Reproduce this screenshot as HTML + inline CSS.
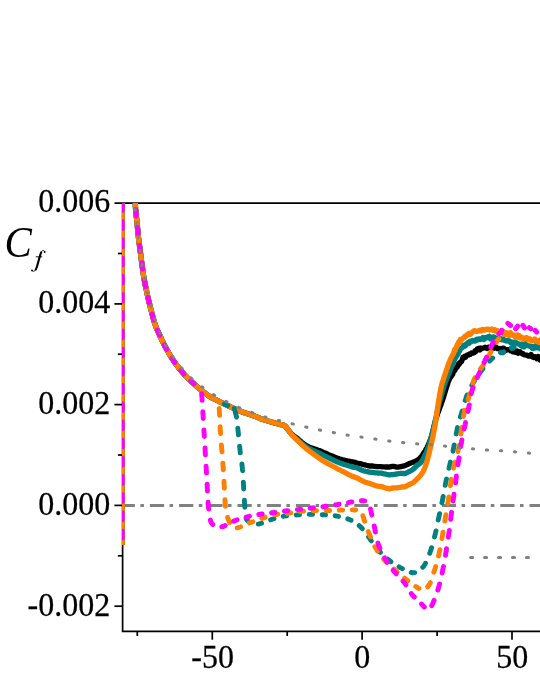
<!DOCTYPE html>
<html><head><meta charset="utf-8"><title>Cf</title>
<style>html,body{margin:0;padding:0;background:#fff}body{width:540px;height:699px;position:relative;overflow:hidden;font-family:"Liberation Serif",serif}</style>
</head><body>
<svg width="540" height="699" viewBox="0 0 540 699" style="position:absolute;left:0;top:0;will-change:transform">
<defs><clipPath id="c"><rect x="122" y="203.1" width="420" height="428"/></clipPath></defs>
<rect width="540" height="699" fill="#fff"/>
<g stroke="#000" stroke-width="1.7" fill="none">
<path d="M122.6,202.2 V632.3 M121.8,631.45 H540 M114.5,203.1 H540"/>
<path d="M114.4,303.9 H122.6"/>
<path d="M114.4,404.6 H122.6"/>
<path d="M114.4,505.4 H122.6"/>
<path d="M114.4,606.2 H122.6"/>
<path d="M117.9,253.5 H122.6"/>
<path d="M117.9,354.2 H122.6"/>
<path d="M117.9,455 H122.6"/>
<path d="M117.9,555.8 H122.6"/>
<path d="M212.3,631.4 V639.7"/>
<path d="M362.1,631.4 V639.7"/>
<path d="M512,631.4 V639.7"/>
<path d="M137.3,631.4 V636"/>
<path d="M287.2,631.4 V636"/>
<path d="M437.1,631.4 V636"/>
</g>
<g clip-path="url(#c)">
<path d="M122,505.4 H545" stroke="#808080" stroke-width="3" fill="none" stroke-dasharray="14.2 5.5 3.5 6" stroke-dashoffset="1.3"/>
<path d="M122.2,203.0 L122.2,545.0" fill="none" stroke="#000" stroke-width="5.3" stroke-linejoin="round"/>
<path d="M135.3,203.0 L135.3,203.6 L135.3,204.3 L135.4,205.2 L135.4,206.2 L135.5,207.5 L135.6,209.0 L135.7,209.8 L135.8,210.7 L135.9,211.6 L136.0,212.6 L136.1,213.6 L136.2,214.7 L136.3,215.8 L136.4,217.0 L136.5,218.1 L136.7,219.2 L136.8,220.3 L136.9,221.4 L137.0,222.5 L137.1,223.5 L137.2,224.6 L137.3,225.6 L137.4,226.6 L137.5,227.6 L137.6,228.7 L137.7,229.7 L137.8,230.7 L137.9,231.8 L138.0,232.8 L138.1,233.9 L138.2,234.9 L138.3,236.0 L138.4,237.0 L138.5,238.1 L138.7,239.1 L138.8,240.2 L138.9,241.2 L139.1,242.3 L139.2,243.4 L139.4,244.4 L139.5,245.5 L139.6,246.6 L139.8,247.6 L139.9,248.7 L140.1,249.7 L140.2,250.8 L140.3,251.8 L140.5,252.9 L140.6,254.0 L140.8,255.1 L140.9,256.2 L141.0,257.2 L141.2,258.3 L141.3,259.3 L141.4,260.4 L141.6,261.4 L141.7,262.5 L141.9,263.5 L142.0,264.5 L142.1,265.6 L142.3,266.6 L142.4,267.7 L142.6,268.7 L142.7,269.7 L142.8,270.7 L143.0,271.7 L143.1,272.7 L143.3,273.7 L143.4,274.8 L143.6,275.9 L143.8,277.0 L144.0,278.0 L144.1,279.0 L144.3,280.0 L144.5,281.0 L144.7,282.0 L144.9,283.0 L145.1,284.1 L145.3,285.2 L145.5,286.2 L145.8,287.3 L146.0,288.4 L146.2,289.5 L146.5,290.6 L146.7,291.7 L146.9,292.6 L147.1,293.6 L147.3,294.5 L147.5,295.5 L147.7,296.4 L148.0,297.4 L148.2,298.4 L148.4,299.4 L148.7,300.4 L148.9,301.4 L149.1,302.4 L149.4,303.4 L149.6,304.3 L149.9,305.3 L150.1,306.3 L150.3,307.3 L150.6,308.3 L150.9,309.3 L151.1,310.3 L151.4,311.3 L151.6,312.3 L151.9,313.4 L152.2,314.4 L152.5,315.4 L152.7,316.4 L153.0,317.5 L153.3,318.5 L153.6,319.5 L153.9,320.5 L154.1,321.4 L154.4,322.4 L154.7,323.3 L155.0,324.1 L155.3,325.0 L155.7,326.1 L156.1,327.2 L156.5,328.3 L156.9,329.3 L157.4,330.2 L157.8,331.1 L158.2,332.0 L158.6,332.9 L159.1,333.9 L159.5,334.8 L159.9,335.7 L160.4,336.7 L160.8,337.6 L161.3,338.5 L161.7,339.5 L162.1,340.4 L162.6,341.3 L163.0,342.3 L163.5,343.2 L163.9,344.1 L164.4,345.1 L164.9,346.0 L165.4,347.0 L165.9,347.9 L166.4,348.9 L166.9,349.8 L167.4,350.7 L167.9,351.6 L168.5,352.5 L169.0,353.5 L169.5,354.4 L170.1,355.3 L170.7,356.3 L171.2,357.2 L171.8,358.1 L172.4,359.0 L173.0,359.9 L173.6,360.8 L174.2,361.7 L174.8,362.6 L175.4,363.4 L176.0,364.3 L176.7,365.1 L177.3,366.0 L178.0,366.8 L178.6,367.7 L179.3,368.5 L179.9,369.3 L180.6,370.1 L181.3,370.9 L181.9,371.7 L182.6,372.5 L183.3,373.3 L184.0,374.1 L184.7,374.8 L185.4,375.6 L186.2,376.4 L186.9,377.1 L187.6,377.9 L188.4,378.6 L189.1,379.3 L189.9,380.0 L190.6,380.7 L191.3,381.4 L192.0,382.1 L192.7,382.7 L193.3,383.3 L194.2,384.1 L195.0,384.9 L195.8,385.6 L196.5,386.2 L197.3,386.9 L198.0,387.5 L198.7,388.1 L199.5,388.7 L200.3,389.3 L201.1,390.0 L201.9,390.6 L202.7,391.2 L203.4,391.9 L204.3,392.5 L205.1,393.2 L205.9,393.8 L206.7,394.4 L207.5,395.0 L208.4,395.6 L209.2,396.2 L210.0,396.7 L210.9,397.3 L211.8,397.8 L212.8,398.3 L213.7,398.8 L214.6,399.2 L215.5,399.7 L216.4,400.1 L217.3,400.5 L218.1,400.9 L218.9,401.3 L220.0,401.9 L220.8,402.3 L221.6,402.7 L222.5,403.1 L223.5,403.6 L225.0,404.3 L225.7,404.6 L226.5,405.0 L227.3,405.4 L228.2,405.8 L229.1,406.2 L230.1,406.7 L231.1,407.2 L232.1,407.6 L233.2,408.1 L234.2,408.6 L235.3,409.0 L236.3,409.5 L237.4,410.0 L238.4,410.4 L239.4,410.8 L240.4,411.2 L241.3,411.6 L242.4,411.9 L243.4,412.3 L244.5,412.7 L245.5,413.1 L246.6,413.4 L247.7,413.8 L248.7,414.1 L249.7,414.5 L250.7,414.8 L251.7,415.1 L252.6,415.4 L253.4,415.7 L254.3,416.0 L255.0,416.3 L256.4,416.8 L257.4,417.3 L258.2,417.6 L258.9,417.9 L259.7,418.3 L260.7,418.7 L262.2,419.2 L263.0,419.4 L263.8,419.7 L264.7,420.0 L265.7,420.3 L266.8,420.6 L267.9,421.0 L269.0,421.3 L270.1,421.6 L271.3,422.0 L272.4,422.3 L273.5,422.6 L274.6,422.9 L275.6,423.2 L276.6,423.5 L277.5,423.8 L278.3,424.0 L279.0,424.2 L280.9,424.7 L282.1,424.9 L283.0,425.1 L283.7,425.2 L284.5,425.6 L285.4,426.3 L286.1,427.1 L286.7,428.0 L287.5,429.0 L288.1,429.8 L288.8,430.6 L289.5,431.5 L290.3,432.5 L291.1,433.4 L291.9,434.2 L292.6,434.8 L293.3,435.4 L294.0,436.0 L294.8,436.6 L295.6,437.2 L296.5,437.8 L297.5,438.6 L298.2,439.2 L298.9,439.8 L299.6,440.4 L300.4,441.1 L301.2,441.8 L302.0,442.5 L302.9,443.2 L303.8,443.9 L304.7,444.6 L305.7,445.2 L306.7,445.8 L307.5,446.2 L308.5,446.7 L309.4,447.1 L310.4,447.5 L311.5,447.9 L312.5,448.2 L313.6,448.6 L314.7,449.0 L315.7,449.3 L316.7,449.6 L317.6,450.0 L318.5,450.3 L319.3,450.5 L320.0,450.8 L321.4,451.4 L322.1,451.7 L322.7,452.0 L323.5,452.4 L325.0,453.0 L325.7,453.3 L326.4,453.6 L327.2,453.9 L328.0,454.3 L328.9,454.7 L329.9,455.1 L330.9,455.5 L331.9,455.9 L332.9,456.3 L333.9,456.8 L335.0,457.2 L336.0,457.6 L337.0,458.0 L338.1,458.3 L339.0,458.7 L340.0,459.0 L341.0,459.3 L342.0,459.6 L343.1,459.9 L344.1,460.1 L345.2,460.4 L346.2,460.6 L347.3,460.9 L348.3,461.1 L349.4,461.4 L350.4,461.5 L351.4,461.7 L352.3,461.9 L353.3,462.0 L354.1,462.2 L355.0,462.4 L356.1,462.7 L357.1,463.0 L357.9,463.2 L358.6,463.4 L359.4,463.6 L360.2,463.7 L361.1,463.9 L362.1,464.2 L363.4,464.6 L365.0,464.9 L365.7,465.1 L366.5,465.3 L367.4,465.5 L368.3,465.8 L369.2,466.0 L370.2,466.0 L371.2,466.0 L372.2,466.0 L373.3,466.1 L374.4,466.3 L375.5,466.5 L376.6,466.6 L377.8,466.7 L378.9,466.7 L380.0,466.7 L381.1,466.7 L382.2,466.8 L383.3,466.9 L384.4,466.9 L385.4,467.0 L386.4,467.0 L387.4,467.0 L388.3,467.1 L389.2,467.0 L390.0,466.9 L391.3,466.6 L392.5,466.4 L393.7,466.4 L394.8,466.7 L395.8,466.9 L396.8,467.2 L397.8,467.1 L398.7,467.0 L399.7,466.8 L400.6,466.6 L401.4,466.5 L402.3,466.3 L403.2,466.1 L404.1,465.9 L405.0,465.7 L406.1,465.2 L407.1,464.7 L408.2,464.1 L409.2,463.6 L410.2,463.3 L411.2,462.9 L412.2,462.5 L413.2,462.1 L414.1,461.8 L415.0,461.4 L415.9,461.0 L416.7,460.6 L417.5,460.1 L418.3,459.5 L419.1,458.9 L419.8,458.3 L420.4,457.6 L421.1,456.8 L421.7,456.1 L422.2,455.3 L422.8,454.5 L423.3,453.7 L423.9,452.9 L424.4,452.0 L425.0,451.1 L425.5,450.3 L425.9,449.5 L426.4,448.6 L426.9,447.8 L427.3,446.9 L427.7,446.0 L428.2,445.1 L428.6,444.2 L429.0,443.2 L429.4,442.3 L429.8,441.3 L430.2,440.3 L430.6,439.2 L431.0,438.1 L431.3,437.3 L431.6,436.4 L431.8,435.5 L432.1,434.6 L432.3,433.6 L432.6,432.7 L432.9,431.7 L433.1,430.6 L433.3,429.6 L433.6,428.5 L433.8,427.4 L434.1,426.3 L434.3,425.3 L434.6,424.2 L434.9,423.1 L435.1,422.0 L435.4,420.9 L435.7,419.9 L436.0,418.8 L436.3,417.9 L436.6,416.9 L436.9,415.9 L437.2,414.9 L437.5,414.0 L437.8,413.1 L438.2,412.2 L438.5,411.3 L438.8,410.4 L439.2,409.4 L439.5,408.5 L439.8,407.6 L440.2,406.7 L440.5,405.8 L440.9,404.9 L441.2,403.9 L441.5,403.0 L441.9,402.0 L442.2,401.1 L442.5,400.2 L442.8,399.2 L443.1,398.2 L443.5,397.2 L443.8,396.2 L444.1,395.2 L444.4,394.2 L444.7,393.2 L445.0,392.2 L445.3,391.2 L445.6,390.1 L446.0,389.1 L446.3,388.1 L446.6,387.1 L446.9,386.1 L447.2,385.2 L447.5,384.2 L447.8,383.4 L448.1,382.3 L448.4,381.6 L448.8,380.6 L449.2,379.7 L449.7,378.9 L450.2,377.6 L450.7,377.3 L451.2,376.4 L451.7,375.3 L452.2,374.0 L452.7,374.4 L453.2,372.4 L453.6,371.5 L454.1,371.1 L454.6,370.4 L455.0,370.2 L455.7,367.9 L456.3,368.0 L456.9,367.4 L457.5,366.6 L458.0,364.8 L458.6,363.6 L459.3,364.1 L460.0,362.6 L460.7,361.8 L461.4,361.9 L462.1,359.9 L462.9,357.6 L463.7,358.1 L464.5,356.3 L465.3,357.4 L466.2,356.4 L467.0,355.1 L467.9,354.9 L468.7,354.9 L469.6,353.9 L470.5,354.3 L471.5,352.9 L472.4,353.2 L473.3,353.1 L474.1,352.8 L475.0,350.8 L476.0,351.4 L477.1,349.0 L478.0,349.2 L479.0,348.2 L480.0,349.9 L481.0,348.0 L482.0,348.5 L483.0,348.1 L484.0,347.9 L485.1,347.2 L486.1,347.5 L487.2,348.4 L488.4,347.1 L489.6,347.4 L490.5,347.7 L491.4,346.9 L492.4,346.3 L493.3,346.9 L494.3,348.2 L495.4,346.5 L496.5,347.4 L497.6,348.7 L498.8,348.8 L500.0,348.5 L500.9,349.2 L501.8,349.0 L502.7,348.2 L503.7,348.2 L504.7,349.1 L505.7,350.4 L506.7,349.6 L507.7,349.6 L508.8,349.9 L509.8,349.7 L510.9,350.9 L511.9,350.4 L513.0,351.8 L514.0,350.1 L515.0,352.2 L516.0,351.8 L517.0,351.1 L518.0,353.2 L519.1,352.8 L520.1,351.7 L521.1,352.9 L522.2,354.0 L523.2,353.7 L524.2,354.8 L525.2,355.0 L526.2,355.2 L527.2,355.2 L528.2,356.2 L529.1,355.9 L530.0,356.0 L531.1,354.5 L532.3,356.9 L533.5,357.5 L534.7,356.7 L535.8,356.8 L536.9,358.8 L538.0,356.5 L539.0,358.3 L539.9,359.9 L540.7,357.8 L541.4,359.1 L542.0,360.1" fill="none" stroke="#000" stroke-width="5.3" stroke-linejoin="round"/>
<path d="M122.2,203.0 L122.2,545.0" fill="none" stroke="#008080" stroke-width="5.3" stroke-linejoin="round"/>
<path d="M135.3,203.0 L135.3,203.6 L135.3,204.3 L135.4,205.2 L135.4,206.2 L135.5,207.5 L135.6,209.0 L135.7,209.8 L135.8,210.7 L135.9,211.6 L136.0,212.6 L136.1,213.6 L136.2,214.7 L136.3,215.8 L136.4,217.0 L136.5,218.1 L136.7,219.2 L136.8,220.3 L136.9,221.4 L137.0,222.5 L137.1,223.5 L137.2,224.6 L137.3,225.6 L137.4,226.6 L137.5,227.6 L137.6,228.7 L137.7,229.7 L137.8,230.7 L137.9,231.8 L138.0,232.8 L138.1,233.9 L138.2,234.9 L138.3,236.0 L138.4,237.0 L138.5,238.1 L138.7,239.1 L138.8,240.2 L138.9,241.2 L139.1,242.3 L139.2,243.4 L139.4,244.4 L139.5,245.5 L139.6,246.6 L139.8,247.6 L139.9,248.7 L140.1,249.7 L140.2,250.8 L140.3,251.8 L140.5,252.9 L140.6,254.0 L140.8,255.1 L140.9,256.2 L141.0,257.2 L141.2,258.3 L141.3,259.3 L141.4,260.4 L141.6,261.4 L141.7,262.5 L141.9,263.5 L142.0,264.5 L142.1,265.6 L142.3,266.6 L142.4,267.7 L142.6,268.7 L142.7,269.7 L142.8,270.7 L143.0,271.7 L143.1,272.7 L143.3,273.7 L143.4,274.8 L143.6,275.9 L143.8,277.0 L144.0,278.0 L144.1,279.0 L144.3,280.0 L144.5,281.0 L144.7,282.0 L144.9,283.0 L145.1,284.1 L145.3,285.2 L145.5,286.2 L145.8,287.3 L146.0,288.4 L146.2,289.5 L146.5,290.6 L146.7,291.7 L146.9,292.6 L147.1,293.6 L147.3,294.5 L147.5,295.5 L147.7,296.4 L148.0,297.4 L148.2,298.4 L148.4,299.4 L148.7,300.4 L148.9,301.4 L149.1,302.4 L149.4,303.4 L149.6,304.3 L149.9,305.3 L150.1,306.3 L150.3,307.3 L150.6,308.3 L150.9,309.3 L151.1,310.3 L151.4,311.3 L151.6,312.3 L151.9,313.4 L152.2,314.4 L152.5,315.4 L152.7,316.4 L153.0,317.5 L153.3,318.5 L153.6,319.5 L153.9,320.5 L154.1,321.4 L154.4,322.4 L154.7,323.3 L155.0,324.1 L155.3,325.0 L155.7,326.1 L156.1,327.2 L156.5,328.3 L156.9,329.3 L157.4,330.2 L157.8,331.1 L158.2,332.0 L158.6,332.9 L159.1,333.9 L159.5,334.8 L159.9,335.7 L160.4,336.7 L160.8,337.6 L161.3,338.5 L161.7,339.5 L162.1,340.4 L162.6,341.3 L163.0,342.3 L163.5,343.2 L163.9,344.1 L164.4,345.1 L164.9,346.0 L165.4,347.0 L165.9,347.9 L166.4,348.9 L166.9,349.8 L167.4,350.7 L167.9,351.6 L168.5,352.5 L169.0,353.5 L169.5,354.4 L170.1,355.3 L170.7,356.3 L171.2,357.2 L171.8,358.1 L172.4,359.0 L173.0,359.9 L173.6,360.8 L174.2,361.7 L174.8,362.6 L175.4,363.4 L176.0,364.3 L176.7,365.1 L177.3,366.0 L178.0,366.8 L178.6,367.7 L179.3,368.5 L179.9,369.3 L180.6,370.1 L181.3,370.9 L181.9,371.7 L182.6,372.5 L183.3,373.3 L184.0,374.1 L184.7,374.8 L185.4,375.6 L186.2,376.4 L186.9,377.1 L187.6,377.9 L188.4,378.6 L189.1,379.3 L189.9,380.0 L190.6,380.7 L191.3,381.4 L192.0,382.1 L192.7,382.7 L193.3,383.3 L194.2,384.1 L195.0,384.9 L195.8,385.6 L196.5,386.2 L197.3,386.9 L198.0,387.5 L198.7,388.1 L199.5,388.7 L200.3,389.3 L201.1,390.0 L201.9,390.6 L202.7,391.2 L203.4,391.9 L204.3,392.5 L205.1,393.2 L205.9,393.8 L206.7,394.4 L207.5,395.0 L208.4,395.6 L209.2,396.2 L210.0,396.7 L210.9,397.3 L211.8,397.8 L212.8,398.3 L213.7,398.8 L214.6,399.2 L215.5,399.7 L216.4,400.1 L217.3,400.5 L218.1,400.9 L218.9,401.3 L220.0,401.9 L220.8,402.3 L221.6,402.7 L222.5,403.1 L223.5,403.6 L225.0,404.3 L225.7,404.6 L226.5,405.0 L227.3,405.4 L228.2,405.8 L229.1,406.2 L230.1,406.7 L231.1,407.2 L232.1,407.6 L233.2,408.1 L234.2,408.6 L235.3,409.0 L236.3,409.5 L237.4,410.0 L238.4,410.4 L239.4,410.8 L240.4,411.2 L241.3,411.6 L242.4,411.9 L243.4,412.3 L244.5,412.7 L245.5,413.1 L246.6,413.4 L247.7,413.8 L248.7,414.1 L249.7,414.5 L250.7,414.8 L251.7,415.1 L252.6,415.4 L253.4,415.7 L254.3,416.0 L255.0,416.3 L256.4,416.8 L257.4,417.3 L258.2,417.6 L258.9,417.9 L259.7,418.3 L260.7,418.7 L262.2,419.2 L263.0,419.4 L263.8,419.7 L264.7,420.0 L265.7,420.3 L266.8,420.6 L267.9,421.0 L269.0,421.3 L270.1,421.6 L271.3,422.0 L272.4,422.3 L273.5,422.6 L274.6,422.9 L275.6,423.2 L276.6,423.5 L277.5,423.8 L278.3,424.0 L279.0,424.2 L280.9,424.7 L282.1,424.9 L283.0,425.1 L283.7,425.2 L284.5,425.6 L285.4,426.3 L286.1,427.0 L286.7,427.9 L287.5,429.0 L288.0,429.7 L288.6,430.5 L289.2,431.3 L289.9,432.1 L290.5,433.0 L291.2,433.8 L291.9,434.6 L292.6,435.3 L293.3,436.0 L294.0,436.6 L294.8,437.3 L295.6,437.9 L296.5,438.7 L297.5,439.5 L298.2,440.1 L298.9,440.7 L299.6,441.4 L300.4,442.1 L301.2,442.8 L302.0,443.5 L302.9,444.2 L303.8,445.0 L304.7,445.7 L305.7,446.3 L306.7,447.0 L307.5,447.5 L308.5,448.0 L309.4,448.5 L310.4,449.0 L311.5,449.6 L312.5,450.1 L313.6,450.6 L314.7,451.0 L315.7,451.5 L316.7,452.0 L317.6,452.4 L318.5,452.8 L319.3,453.2 L320.0,453.5 L321.4,454.2 L322.1,454.6 L322.7,454.9 L323.5,455.3 L325.0,456.0 L325.7,456.3 L326.4,456.7 L327.2,457.1 L328.0,457.5 L328.9,457.9 L329.9,458.4 L330.9,458.9 L331.9,459.4 L332.9,459.9 L333.9,460.4 L335.0,460.8 L336.0,461.3 L337.0,461.8 L338.1,462.2 L339.0,462.6 L340.0,463.0 L341.0,463.4 L342.0,463.7 L343.1,464.1 L344.1,464.4 L345.2,464.7 L346.2,465.0 L347.3,465.3 L348.3,465.7 L349.4,466.0 L350.4,466.3 L351.4,466.6 L352.3,466.9 L353.3,467.2 L354.1,467.3 L355.0,467.5 L356.1,467.7 L357.1,467.9 L357.9,468.3 L358.6,468.7 L359.4,469.1 L360.2,469.5 L361.1,469.9 L362.1,470.3 L363.4,470.7 L365.0,471.1 L365.7,471.3 L366.5,471.5 L367.4,471.7 L368.3,471.9 L369.2,472.1 L370.2,472.2 L371.2,472.3 L372.2,472.4 L373.3,472.5 L374.4,472.6 L375.5,472.8 L376.6,472.9 L377.8,473.0 L378.9,473.1 L380.0,473.1 L381.1,473.2 L382.2,473.4 L383.3,473.6 L384.4,473.8 L385.4,474.0 L386.4,474.3 L387.4,474.5 L388.3,474.7 L389.2,474.8 L390.0,474.8 L391.3,474.7 L392.5,474.6 L393.7,474.5 L394.8,474.3 L395.8,474.1 L396.8,473.9 L397.8,473.8 L398.7,473.7 L399.7,473.5 L400.6,473.3 L401.4,473.3 L402.3,473.4 L403.2,473.5 L404.1,473.6 L405.0,473.7 L406.0,473.2 L407.0,472.7 L407.9,472.2 L408.9,471.6 L409.9,471.2 L410.8,470.7 L411.7,470.2 L412.6,469.6 L413.5,468.9 L414.4,468.1 L415.2,467.3 L416.0,466.4 L416.8,465.5 L417.5,465.0 L418.2,464.6 L418.9,464.2 L419.6,463.7 L420.2,463.2 L420.8,462.6 L421.4,461.9 L421.9,461.0 L422.5,460.2 L423.0,459.3 L423.5,458.3 L424.0,457.3 L424.5,456.3 L425.0,455.2 L425.4,454.5 L425.7,453.7 L426.1,452.9 L426.5,452.0 L426.8,451.1 L427.1,450.2 L427.5,449.3 L427.8,448.4 L428.2,447.5 L428.5,446.5 L428.8,445.5 L429.1,444.5 L429.4,443.4 L429.8,442.3 L430.1,441.2 L430.4,440.2 L430.7,439.1 L431.0,438.0 L431.3,437.0 L431.5,436.0 L431.8,435.0 L432.1,433.9 L432.3,432.9 L432.6,431.9 L432.9,430.8 L433.1,429.7 L433.4,428.7 L433.6,427.7 L433.9,426.6 L434.1,425.6 L434.4,424.5 L434.6,423.5 L434.8,422.5 L435.1,421.5 L435.3,420.5 L435.5,419.5 L435.8,418.5 L436.0,417.5 L436.3,416.4 L436.5,415.3 L436.7,414.3 L437.0,413.2 L437.2,412.2 L437.4,411.2 L437.6,410.2 L437.8,409.2 L438.0,408.2 L438.3,407.2 L438.5,406.3 L438.7,405.3 L438.9,404.3 L439.2,403.3 L439.4,402.2 L439.7,401.2 L440.0,400.2 L440.3,399.2 L440.5,398.3 L440.8,397.3 L441.1,396.3 L441.4,395.2 L441.7,394.1 L442.0,393.0 L442.4,391.9 L442.7,390.7 L443.0,389.6 L443.3,388.5 L443.7,387.4 L444.0,386.3 L444.3,385.2 L444.7,384.1 L445.0,383.0 L445.3,382.2 L445.7,381.3 L446.0,380.5 L446.3,379.6 L446.7,378.7 L447.0,377.8 L447.4,376.9 L447.7,376.1 L448.1,375.3 L448.4,374.3 L448.8,373.8 L449.2,372.6 L449.5,371.8 L449.9,370.7 L450.2,369.9 L450.6,368.3 L451.0,367.7 L451.4,367.0 L451.7,366.2 L452.1,365.8 L452.5,364.3 L453.0,363.6 L453.5,362.2 L453.9,361.3 L454.4,360.1 L454.9,358.8 L455.5,358.1 L456.0,356.3 L456.5,356.5 L457.0,354.3 L457.5,354.2 L458.0,354.5 L458.5,352.1 L459.0,351.5 L459.5,351.5 L460.0,350.0 L460.8,348.4 L461.6,348.2 L462.3,347.6 L463.1,346.9 L463.8,345.2 L464.6,346.4 L465.4,345.8 L466.2,344.1 L467.0,343.7 L467.9,342.6 L468.8,343.4 L469.7,341.5 L470.7,342.1 L471.6,340.9 L472.7,340.4 L473.8,341.1 L475.0,341.1 L475.9,339.9 L476.8,339.2 L477.7,339.9 L478.6,339.0 L479.6,339.0 L480.7,339.5 L481.7,339.0 L482.8,337.6 L483.9,339.4 L485.1,337.6 L486.3,338.1 L487.5,337.0 L488.4,337.5 L489.4,336.4 L490.4,338.9 L491.4,338.7 L492.4,337.1 L493.5,337.0 L494.6,337.2 L495.7,339.3 L496.8,338.4 L497.9,338.9 L499.0,338.9 L500.1,339.3 L501.1,338.8 L502.1,339.8 L503.1,339.0 L504.1,340.2 L505.0,340.6 L506.2,341.0 L507.2,340.7 L508.2,340.5 L509.1,341.5 L510.0,341.2 L510.8,342.9 L511.7,342.6 L512.6,342.2 L513.6,342.3 L514.8,342.4 L516.1,342.5 L517.5,343.3 L518.3,343.9 L519.1,344.2 L520.0,344.4 L521.0,345.7 L522.0,344.0 L523.1,344.7 L524.2,346.9 L525.3,343.8 L526.5,345.0 L527.6,345.7 L528.8,345.9 L529.9,346.4 L531.1,346.1 L532.3,346.8 L533.4,346.8 L534.5,347.5 L535.6,345.9 L536.6,346.8 L537.6,347.6 L538.5,347.1 L539.3,347.2 L540.1,348.6 L540.8,347.8 L541.5,348.8 L542.0,349.0" fill="none" stroke="#008080" stroke-width="5.3" stroke-linejoin="round"/>
<path d="M122.2,203.0 L122.2,545.0" fill="none" stroke="#FF8000" stroke-width="5.3" stroke-linejoin="round"/>
<path d="M135.3,203.0 L135.3,203.6 L135.3,204.3 L135.4,205.2 L135.4,206.2 L135.5,207.5 L135.6,209.0 L135.7,209.8 L135.8,210.7 L135.9,211.6 L136.0,212.6 L136.1,213.6 L136.2,214.7 L136.3,215.8 L136.4,217.0 L136.5,218.1 L136.7,219.2 L136.8,220.3 L136.9,221.4 L137.0,222.5 L137.1,223.5 L137.2,224.6 L137.3,225.6 L137.4,226.6 L137.5,227.6 L137.6,228.7 L137.7,229.7 L137.8,230.7 L137.9,231.8 L138.0,232.8 L138.1,233.9 L138.2,234.9 L138.3,236.0 L138.4,237.0 L138.5,238.1 L138.7,239.1 L138.8,240.2 L138.9,241.2 L139.1,242.3 L139.2,243.4 L139.4,244.4 L139.5,245.5 L139.6,246.6 L139.8,247.6 L139.9,248.7 L140.1,249.7 L140.2,250.8 L140.3,251.8 L140.5,252.9 L140.6,254.0 L140.8,255.1 L140.9,256.2 L141.0,257.2 L141.2,258.3 L141.3,259.3 L141.4,260.4 L141.6,261.4 L141.7,262.5 L141.9,263.5 L142.0,264.5 L142.1,265.6 L142.3,266.6 L142.4,267.7 L142.6,268.7 L142.7,269.7 L142.8,270.7 L143.0,271.7 L143.1,272.7 L143.3,273.7 L143.4,274.8 L143.6,275.9 L143.8,277.0 L144.0,278.0 L144.1,279.0 L144.3,280.0 L144.5,281.0 L144.7,282.0 L144.9,283.0 L145.1,284.1 L145.3,285.2 L145.5,286.2 L145.8,287.3 L146.0,288.4 L146.2,289.5 L146.5,290.6 L146.7,291.7 L146.9,292.6 L147.1,293.6 L147.3,294.5 L147.5,295.5 L147.7,296.4 L148.0,297.4 L148.2,298.4 L148.4,299.4 L148.7,300.4 L148.9,301.4 L149.1,302.4 L149.4,303.4 L149.6,304.3 L149.9,305.3 L150.1,306.3 L150.3,307.3 L150.6,308.3 L150.9,309.3 L151.1,310.3 L151.4,311.3 L151.6,312.3 L151.9,313.4 L152.2,314.4 L152.5,315.4 L152.7,316.4 L153.0,317.5 L153.3,318.5 L153.6,319.5 L153.9,320.5 L154.1,321.4 L154.4,322.4 L154.7,323.3 L155.0,324.1 L155.3,325.0 L155.7,326.1 L156.1,327.2 L156.5,328.3 L156.9,329.3 L157.4,330.2 L157.8,331.1 L158.2,332.0 L158.6,332.9 L159.1,333.9 L159.5,334.8 L159.9,335.7 L160.4,336.7 L160.8,337.6 L161.3,338.5 L161.7,339.5 L162.1,340.4 L162.6,341.3 L163.0,342.3 L163.5,343.2 L163.9,344.1 L164.4,345.1 L164.9,346.0 L165.4,347.0 L165.9,347.9 L166.4,348.9 L166.9,349.8 L167.4,350.7 L167.9,351.6 L168.5,352.5 L169.0,353.5 L169.5,354.4 L170.1,355.3 L170.7,356.3 L171.2,357.2 L171.8,358.1 L172.4,359.0 L173.0,359.9 L173.6,360.8 L174.2,361.7 L174.8,362.6 L175.4,363.4 L176.0,364.3 L176.7,365.1 L177.3,366.0 L178.0,366.8 L178.6,367.7 L179.3,368.5 L179.9,369.3 L180.6,370.1 L181.3,370.9 L181.9,371.7 L182.6,372.5 L183.3,373.3 L184.0,374.1 L184.7,374.8 L185.4,375.6 L186.2,376.4 L186.9,377.1 L187.6,377.9 L188.4,378.6 L189.1,379.3 L189.9,380.0 L190.6,380.7 L191.3,381.4 L192.0,382.1 L192.7,382.7 L193.3,383.3 L194.2,384.1 L195.0,384.9 L195.8,385.6 L196.5,386.2 L197.3,386.9 L198.0,387.5 L198.7,388.1 L199.5,388.7 L200.3,389.3 L201.1,390.0 L201.9,390.6 L202.7,391.2 L203.4,391.9 L204.3,392.5 L205.1,393.2 L205.9,393.8 L206.7,394.4 L207.5,395.0 L208.4,395.6 L209.2,396.2 L210.0,396.7 L210.9,397.3 L211.8,397.8 L212.8,398.3 L213.7,398.8 L214.6,399.2 L215.5,399.7 L216.4,400.1 L217.3,400.5 L218.1,400.9 L218.9,401.3 L220.0,401.9 L220.8,402.3 L221.6,402.7 L222.5,403.1 L223.5,403.6 L225.0,404.3 L225.7,404.6 L226.5,405.0 L227.3,405.4 L228.2,405.8 L229.1,406.2 L230.1,406.7 L231.1,407.2 L232.1,407.6 L233.2,408.1 L234.2,408.6 L235.3,409.0 L236.3,409.5 L237.4,410.0 L238.4,410.4 L239.4,410.8 L240.4,411.2 L241.3,411.6 L242.4,411.9 L243.4,412.3 L244.5,412.7 L245.5,413.1 L246.6,413.4 L247.7,413.8 L248.7,414.1 L249.7,414.5 L250.7,414.8 L251.7,415.1 L252.6,415.4 L253.4,415.7 L254.3,416.0 L255.0,416.3 L256.4,416.8 L257.4,417.3 L258.2,417.6 L258.9,417.9 L259.7,418.3 L260.7,418.7 L262.2,419.2 L263.0,419.4 L263.8,419.7 L264.7,420.0 L265.7,420.3 L266.8,420.6 L267.9,421.0 L269.0,421.3 L270.1,421.6 L271.3,422.0 L272.4,422.3 L273.5,422.6 L274.6,422.9 L275.6,423.2 L276.6,423.5 L277.5,423.8 L278.3,424.0 L279.0,424.2 L280.9,424.7 L282.1,424.9 L283.0,425.1 L283.7,425.2 L284.5,425.6 L285.4,426.2 L286.1,427.0 L286.7,427.9 L287.5,429.0 L288.0,429.7 L288.6,430.5 L289.2,431.4 L289.9,432.3 L290.5,433.2 L291.2,434.1 L291.9,435.0 L292.6,435.8 L293.3,436.5 L294.0,437.2 L294.8,438.0 L295.6,438.7 L296.5,439.6 L297.5,440.5 L298.1,441.1 L298.8,441.7 L299.5,442.4 L300.1,443.1 L300.9,443.8 L301.6,444.5 L302.4,445.2 L303.2,446.0 L304.0,446.7 L304.9,447.5 L305.8,448.2 L306.7,449.0 L307.4,449.6 L308.2,450.2 L309.1,450.8 L309.9,451.5 L310.8,452.2 L311.8,452.8 L312.7,453.5 L313.6,454.2 L314.5,454.8 L315.4,455.5 L316.3,456.1 L317.2,456.7 L318.0,457.3 L318.7,457.8 L319.4,458.3 L320.0,458.7 L321.4,459.7 L322.1,460.3 L322.7,460.6 L323.5,461.1 L325.0,462.0 L325.6,462.3 L326.3,462.7 L327.0,463.1 L327.8,463.6 L328.7,464.0 L329.6,464.5 L330.5,465.0 L331.4,465.5 L332.4,466.0 L333.3,466.5 L334.3,467.0 L335.3,467.5 L336.3,468.1 L337.2,468.6 L338.2,469.1 L339.1,469.5 L340.0,470.0 L340.9,470.5 L341.9,471.0 L342.8,471.5 L343.8,471.9 L344.7,472.4 L345.6,472.9 L346.6,473.4 L347.5,473.9 L348.4,474.4 L349.4,474.9 L350.3,475.3 L351.2,475.8 L352.2,476.2 L353.1,476.6 L354.1,476.9 L355.0,477.3 L355.9,477.6 L356.9,477.9 L357.8,478.4 L358.8,478.9 L359.7,479.4 L360.6,480.0 L361.6,480.5 L362.5,480.9 L363.4,481.4 L364.4,481.8 L365.3,482.2 L366.2,482.5 L367.2,482.7 L368.1,483.0 L369.1,483.2 L370.0,483.6 L371.0,483.9 L372.0,484.3 L373.1,484.7 L374.1,485.1 L375.2,485.5 L376.2,485.9 L377.3,486.1 L378.3,486.2 L379.4,486.3 L380.4,486.3 L381.4,486.5 L382.3,486.8 L383.3,487.2 L384.1,487.5 L385.0,487.8 L386.2,488.1 L387.3,488.5 L388.4,488.7 L389.4,488.8 L390.3,488.6 L391.2,488.4 L392.2,488.1 L393.1,487.9 L394.0,487.9 L395.0,487.9 L396.0,487.9 L397.0,487.9 L398.0,487.7 L399.0,487.5 L400.0,487.3 L401.0,487.1 L402.0,487.0 L403.0,486.9 L404.0,486.8 L405.0,486.7 L405.9,486.2 L406.9,485.8 L407.8,485.3 L408.7,484.7 L409.7,484.3 L410.6,483.9 L411.5,483.5 L412.5,483.1 L413.3,482.5 L414.2,481.8 L415.0,481.0 L415.8,480.3 L416.5,479.5 L417.3,478.8 L418.0,478.1 L418.7,477.4 L419.4,476.7 L420.1,476.0 L420.7,475.2 L421.3,474.3 L421.9,473.4 L422.5,472.5 L423.0,471.7 L423.4,470.8 L423.9,469.9 L424.3,469.0 L424.7,468.1 L425.1,467.1 L425.4,466.1 L425.8,465.0 L426.2,463.9 L426.5,462.8 L426.8,461.7 L427.2,460.6 L427.5,459.5 L427.8,458.5 L428.0,457.6 L428.3,456.6 L428.5,455.6 L428.8,454.6 L429.0,453.6 L429.2,452.7 L429.4,451.8 L429.6,450.9 L429.9,450.0 L430.1,449.0 L430.3,448.0 L430.5,447.0 L430.8,446.0 L431.0,444.9 L431.2,444.1 L431.4,443.3 L431.6,442.5 L431.8,441.6 L432.0,440.7 L432.2,439.9 L432.4,439.0 L432.6,438.1 L432.8,437.2 L433.0,436.3 L433.2,435.3 L433.4,434.2 L433.6,433.2 L433.8,432.1 L434.0,431.1 L434.2,430.0 L434.4,428.9 L434.6,427.8 L434.8,426.7 L435.0,425.5 L435.2,424.6 L435.3,423.7 L435.5,422.7 L435.6,421.7 L435.8,420.7 L435.9,419.7 L436.1,418.6 L436.2,417.6 L436.4,416.5 L436.5,415.4 L436.7,414.4 L436.8,413.3 L437.0,412.2 L437.1,411.1 L437.3,410.0 L437.4,408.9 L437.6,407.9 L437.7,406.8 L437.9,405.7 L438.0,404.7 L438.2,403.7 L438.3,402.7 L438.5,401.7 L438.6,400.8 L438.8,399.9 L439.0,398.6 L439.2,397.4 L439.4,396.2 L439.6,395.0 L439.8,393.9 L440.0,392.8 L440.2,391.8 L440.4,390.8 L440.6,389.7 L440.8,388.7 L441.0,387.7 L441.2,386.8 L441.4,385.9 L441.7,385.0 L441.9,384.1 L442.2,383.1 L442.5,382.1 L442.8,381.3 L443.0,380.4 L443.3,379.6 L443.6,378.7 L443.9,377.8 L444.2,376.9 L444.5,376.0 L444.8,375.1 L445.1,374.2 L445.4,373.2 L445.7,372.2 L446.1,371.2 L446.4,370.1 L446.7,369.2 L447.1,368.2 L447.4,367.2 L447.7,366.2 L448.1,365.3 L448.4,364.2 L448.8,363.4 L449.2,362.4 L449.6,361.5 L450.0,360.3 L450.4,359.3 L450.9,358.4 L451.3,357.5 L451.8,356.4 L452.2,355.7 L452.7,355.0 L453.1,354.1 L453.6,353.4 L454.0,351.6 L454.4,350.9 L454.8,349.1 L455.2,350.4 L455.6,348.3 L456.0,348.0 L456.6,347.1 L457.2,344.8 L457.8,345.0 L458.3,343.7 L458.8,341.7 L459.3,342.4 L459.9,342.3 L460.4,339.4 L461.0,340.6 L461.8,339.3 L462.6,338.6 L463.4,337.9 L464.2,337.8 L465.1,336.1 L466.0,336.2 L467.0,334.7 L467.9,335.0 L468.8,333.4 L469.7,333.4 L470.6,334.2 L471.6,332.8 L472.6,332.0 L473.8,330.9 L475.0,330.7 L475.9,331.2 L476.8,331.5 L477.8,330.9 L478.8,330.8 L479.9,330.2 L481.0,331.0 L482.1,329.6 L483.2,329.4 L484.3,330.3 L485.4,329.6 L486.4,329.3 L487.5,329.1 L488.5,329.3 L489.6,330.0 L490.6,329.9 L491.7,329.0 L492.7,330.3 L493.8,330.3 L494.8,329.7 L495.8,331.1 L496.9,330.6 L497.9,330.8 L499.0,331.8 L500.0,332.4 L501.0,331.3 L502.1,332.3 L503.1,331.7 L504.2,334.2 L505.2,332.5 L506.2,334.0 L507.3,333.0 L508.3,334.3 L509.4,335.6 L510.4,332.6 L511.5,334.4 L512.5,335.4 L513.5,335.2 L514.5,335.1 L515.5,337.4 L516.5,336.2 L517.5,335.3 L518.5,337.3 L519.5,335.8 L520.5,338.1 L521.6,337.2 L522.7,338.0 L523.8,339.1 L525.0,338.6 L525.9,337.7 L526.9,337.7 L527.9,340.0 L529.1,339.9 L530.2,339.1 L531.4,340.5 L532.5,340.5 L533.7,340.8 L534.9,339.0 L536.0,340.6 L537.1,341.7 L538.1,341.7 L539.1,342.0 L540.0,339.9 L540.8,341.9 L541.4,342.2 L542.0,343.8" fill="none" stroke="#FF8000" stroke-width="5.3" stroke-linejoin="round"/>
<path d="M122.2,203.0 L122.2,210.2 M122.2,221.7 L122.2,228.5 M122.2,239.9 L122.2,246.7 M122.2,258.1 L122.2,264.9 M122.2,276.2 L122.2,283.1 M122.2,294.5 L122.2,301.3 M122.2,312.7 L122.2,319.5 M122.2,330.9 L122.2,337.7 M122.2,349.1 L122.2,355.9 M122.2,367.2 L122.2,374.1 M122.2,385.5 L122.2,392.3 M122.2,403.7 L122.2,410.5 M122.2,421.9 L122.2,428.7 M122.2,440.1 L122.2,446.9 M122.2,458.2 L122.2,465.1 M122.2,476.5 L122.2,483.3 M122.2,494.7 L122.2,501.5 M122.2,512.9 L122.2,519.7 M122.2,531.1 L122.2,537.9" fill="none" stroke="#008080" stroke-width="4.9" stroke-linecap="round" stroke-linejoin="round"/>
<path d="M135.6,209.4 L135.7,209.8 L135.8,210.7 L135.9,211.6 L136.0,212.6 L136.1,213.6 L136.2,214.7 L136.3,215.8 L136.3,216.0 M137.4,227.3 L137.5,227.6 L137.6,228.7 L137.7,229.7 L137.8,230.7 L137.9,231.8 L138.0,232.8 L138.1,233.9 L138.1,233.9 M139.5,245.1 L139.5,245.5 L139.6,246.6 L139.8,247.6 L139.9,248.7 L140.1,249.7 L140.2,250.8 L140.3,251.6 M141.8,262.8 L141.9,263.5 L142.0,264.5 L142.1,265.6 L142.3,266.6 L142.4,267.7 L142.6,268.7 L142.6,269.3 M144.4,280.4 L144.5,281.0 L144.7,282.0 L144.9,283.0 L145.1,284.1 L145.3,285.2 L145.5,286.2 L145.6,286.6 M148.0,297.5 L148.2,298.4 L148.4,299.4 L148.7,300.4 L148.9,301.4 L149.1,302.4 L149.4,303.4 L149.4,303.5 M152.1,314.2 L152.2,314.4 L152.5,315.4 L152.7,316.4 L153.0,317.5 L153.3,318.5 L153.6,319.5 L153.8,320.1 M157.4,330.3 L157.8,331.1 L158.2,332.0 L158.6,332.9 L159.1,333.9 L159.5,334.8 L159.7,335.2 M164.3,344.8 L164.4,345.1 L164.9,346.0 L165.4,347.0 L165.9,347.9 L166.4,348.9 L166.7,349.4 M172.0,358.4 L172.4,359.0 L173.0,359.9 L173.6,360.8 L174.2,361.7 L174.7,362.4 M180.9,370.5 L181.3,370.9 L181.9,371.7 L182.6,372.5 L183.3,373.3 L183.8,373.9 M190.8,381.0 L191.3,381.4 L192.0,382.1 L192.7,382.7 L193.3,383.3 L193.9,383.8 M201.4,390.2 L201.9,390.6 L202.7,391.2 L203.4,391.9 L204.3,392.5 L204.5,392.7 M212.5,398.2 L212.8,398.3 L213.7,398.8 L214.6,399.2 L215.5,399.7 L215.8,399.8 M224.4,404.0 L225.0,404.3 L225.8,404.7 L226.8,405.1 L227.7,405.5 M234.2,408.5 L234.2,408.5" fill="none" stroke="#008080" stroke-width="4.9" stroke-linecap="round" stroke-linejoin="round"/>
<path d="M235.0,410.8 L235.2,411.6 L235.6,413.0 L235.8,413.9 L236.0,414.8 L236.2,415.8 L236.4,416.8 L236.5,416.9 M237.8,428.2 L237.9,428.7 L237.9,429.5 L238.0,430.3 L238.1,431.2 L238.2,432.1 L238.3,433.0 L238.4,434.0 L238.5,434.9 M239.6,446.2 L239.7,447.0 L239.8,448.0 L239.9,449.0 L240.0,450.0 L240.1,451.0 L240.2,452.0 L240.3,452.9 M241.9,464.0 L242.0,465.1 L242.1,466.2 L242.3,467.4 L242.4,468.7 L242.5,470.0 L242.6,470.7 M243.3,482.1 L243.4,482.9 L243.4,484.0 L243.5,485.1 L243.6,486.2 L243.6,487.4 L243.7,488.5 L243.7,489.0 M244.4,500.3 L244.4,501.0 L244.5,501.9 L244.5,502.7 L244.6,503.5 L244.6,504.3 L244.7,505.0 L244.8,506.7 L244.8,507.2 M246.2,518.4 L246.5,519.3 L247.1,520.2 L247.8,521.0 L248.5,521.5 L249.1,521.9 M258.2,524.1 L258.5,524.1 L260.0,523.7 L260.7,523.5 L261.6,523.2 L261.6,523.2 M270.6,519.8 L271.0,519.7 L272.0,519.3 L273.0,519.0 L274.0,518.7 M283.2,516.3 L283.7,516.2 L285.0,516.0 L285.8,515.9 L286.7,515.8 M296.2,515.0 L297.0,514.9 L298.1,514.8 L299.1,514.8 L299.6,514.8 M309.2,514.4 L309.3,514.4 L310.3,514.4 L311.3,514.4 L312.3,514.4 L312.6,514.4 M322.2,514.7 L323.0,514.7 L324.0,514.8 L325.1,514.9 L325.6,514.9 M335.1,515.8 L335.3,515.8 L336.3,516.0 L337.4,516.2 L338.5,516.4 L338.5,516.4 M347.8,518.9 L348.6,519.2 L349.5,519.6 L350.4,520.0 L351.1,520.3 M359.2,525.7 L359.2,525.7 L360.0,526.4 L360.7,527.0 L361.5,527.8 L362.2,528.5 L362.3,528.7 M368.5,536.9 L369.0,537.6 L369.6,538.4 L370.2,539.2 L370.8,540.1 L371.3,540.8 M377.5,549.0 L377.8,549.4 L378.6,550.3 L379.3,551.1 L380.1,552.0 L380.4,552.4 M387.7,559.2 L388.3,559.7 L389.1,560.3 L390.0,561.0 L390.8,561.6 L390.9,561.7 M399.1,566.9 L399.4,567.1 L400.3,567.6 L401.2,568.1 L402.2,568.6 L402.4,568.7 M411.2,572.4 L411.8,572.6 L412.8,572.8 L413.9,572.7 L414.7,572.6 M422.7,567.2 L423.0,567.0 L423.8,566.0 L424.3,565.3 L424.8,564.5 L425.3,563.6 L425.5,563.2 M429.7,553.3 L430.0,552.5 L430.3,551.6 L430.6,550.7 L430.9,549.8 L431.2,548.9 L431.5,547.9 L431.6,547.7 M434.5,537.0 L434.5,537.0 L434.8,536.0 L435.0,535.0 L435.3,534.0 L435.5,532.9 L435.7,531.9 L436.0,530.9 L436.0,530.9 M438.2,519.9 L438.3,519.6 L438.5,518.5 L438.8,517.5 L439.0,516.5 L439.2,515.5 L439.4,514.4 L439.6,513.7 M441.9,502.8 L442.1,502.2 L442.3,501.1 L442.5,500.0 L442.7,499.1 L442.9,498.1 L443.1,497.1 L443.2,496.4 M445.2,485.4 L445.3,484.8 L445.5,483.8 L445.7,482.8 L445.9,481.8 L446.1,480.9 L446.2,480.0 L446.5,479.1 M449.0,468.2 L449.1,467.9 L449.3,467.0 L449.5,466.0 L449.8,465.0 L450.0,464.0 L450.2,463.0 L450.4,462.1 M453.0,451.2 L453.0,450.8 L453.3,449.7 L453.5,448.6 L453.8,447.5 L453.9,446.6 L454.1,445.6 L454.2,444.9 M456.2,433.9 L456.3,433.4 L456.5,432.4 L456.7,431.4 L456.9,430.4 L457.1,429.4 L457.3,428.4 L457.5,427.6 M460.4,416.9 L460.5,416.6 L460.8,415.6 L461.1,414.7 L461.4,413.7 L461.7,412.8 L461.9,411.9 L462.2,411.1 M465.2,400.5 L465.4,399.8 L465.8,398.8 L466.1,397.8 L466.4,396.9 L466.8,395.9 L467.1,394.9 L467.1,394.9 M471.8,385.3 L472.1,384.7 L472.6,383.8 L473.2,382.9 L473.8,382.0 L474.4,381.0 L474.4,381.0 M480.2,372.4 L480.3,372.1 L481.0,371.2 L481.7,370.3 L482.3,369.5 L483.0,368.6 L483.0,368.5 M489.6,360.9 L489.9,360.6 L490.7,359.9 L491.4,359.2 L492.2,358.5 L492.7,358.0 M500.6,352.6 L500.8,352.3 L501.8,352.4 L502.8,352.9 L503.8,352.0 L503.9,351.9 M511.2,347.9 L511.6,348.5 L512.5,347.5 L513.4,348.2 L514.2,347.1 M521.7,345.2 L522.6,346.8 L523.6,346.2 L524.5,345.5 M532.5,348.7 L532.8,348.8 L534.0,348.3 L535.1,347.8 L536.1,348.0" fill="none" stroke="#008080" stroke-width="4.9" stroke-linecap="round" stroke-linejoin="round"/>
<path d="M122.2,203.0 L122.2,210.2 M122.2,221.7 L122.2,228.5 M122.2,239.9 L122.2,246.7 M122.2,258.1 L122.2,264.9 M122.2,276.2 L122.2,283.1 M122.2,294.5 L122.2,301.3 M122.2,312.7 L122.2,319.5 M122.2,330.9 L122.2,337.7 M122.2,349.1 L122.2,355.9 M122.2,367.2 L122.2,374.1 M122.2,385.5 L122.2,392.3 M122.2,403.7 L122.2,410.5 M122.2,421.9 L122.2,428.7 M122.2,440.1 L122.2,446.9 M122.2,458.2 L122.2,465.1 M122.2,476.5 L122.2,483.3 M122.2,494.7 L122.2,501.5 M122.2,512.9 L122.2,519.7 M122.2,531.1 L122.2,537.9" fill="none" stroke="#FF8000" stroke-width="4.9" stroke-linecap="round" stroke-linejoin="round"/>
<path d="M135.6,209.4 L135.7,209.8 L135.8,210.7 L135.9,211.6 L136.0,212.6 L136.1,213.6 L136.2,214.7 L136.3,215.8 L136.3,216.0 M137.4,227.3 L137.5,227.6 L137.6,228.7 L137.7,229.7 L137.8,230.7 L137.9,231.8 L138.0,232.8 L138.1,233.9 L138.1,233.9 M139.5,245.1 L139.5,245.5 L139.6,246.6 L139.8,247.6 L139.9,248.7 L140.1,249.7 L140.2,250.8 L140.3,251.6 M141.8,262.8 L141.9,263.5 L142.0,264.5 L142.1,265.6 L142.3,266.6 L142.4,267.7 L142.6,268.7 L142.6,269.3 M144.4,280.4 L144.5,281.0 L144.7,282.0 L144.9,283.0 L145.1,284.1 L145.3,285.2 L145.5,286.2 L145.6,286.6 M148.0,297.5 L148.2,298.4 L148.4,299.4 L148.7,300.4 L148.9,301.4 L149.1,302.4 L149.4,303.4 L149.4,303.5 M152.1,314.2 L152.2,314.4 L152.5,315.4 L152.7,316.4 L153.0,317.5 L153.3,318.5 L153.6,319.5 L153.8,320.1 M157.4,330.3 L157.8,331.1 L158.2,332.0 L158.6,332.9 L159.1,333.9 L159.5,334.8 L159.7,335.2 M164.3,344.8 L164.4,345.1 L164.9,346.0 L165.4,347.0 L165.9,347.9 L166.4,348.9 L166.7,349.4 M172.0,358.4 L172.4,359.0 L173.0,359.9 L173.6,360.8 L174.2,361.7 L174.7,362.4 M180.9,370.5 L181.3,370.9 L181.9,371.7 L182.6,372.5 L183.3,373.3 L183.8,373.9 M190.8,381.0 L191.3,381.4 L192.0,382.1 L192.7,382.7 L193.3,383.3 L193.9,383.8 M201.4,390.2 L201.9,390.6 L202.7,391.2 L203.5,391.9 L204.3,392.5 L204.5,392.7 M212.5,398.2 L213.2,398.5 L214.4,399.1 L215.4,399.6 L215.8,399.8" fill="none" stroke="#FF8000" stroke-width="4.9" stroke-linecap="round" stroke-linejoin="round"/>
<path d="M219.2,408.6 L219.3,408.9 L219.3,409.8 L219.3,410.6 L219.4,411.6 L219.4,412.5 L219.5,413.6 L219.5,414.7 L219.6,415.4 M220.1,426.8 L220.2,428.2 L220.3,430.0 L220.3,430.7 L220.4,431.4 L220.5,432.2 L220.5,433.0 L220.6,433.6 M221.4,445.0 L221.5,445.4 L221.5,446.5 L221.6,447.6 L221.7,448.7 L221.8,449.8 L221.9,450.9 L222.0,451.8 M222.8,463.1 L222.9,464.0 L223.0,465.1 L223.0,466.1 L223.1,467.1 L223.2,468.1 L223.2,469.1 L223.3,469.9 M224.0,481.3 L224.0,482.2 L224.1,483.4 L224.1,484.5 L224.2,485.6 L224.3,486.7 L224.3,487.8 L224.3,488.2 M224.9,499.6 L224.9,499.7 L225.0,500.6 L225.0,501.4 L225.1,502.2 L225.1,502.9 L225.2,503.7 L225.2,504.4 L225.3,505.0 L225.4,506.4 M227.6,517.3 L227.8,518.1 L228.1,519.1 L228.5,520.0 L228.9,521.0 L229.4,522.0 L229.7,522.6 M237.2,527.8 L237.6,527.7 L238.7,527.4 L240.0,527.0 L240.6,526.8 M249.4,522.9 L250.0,522.7 L250.9,522.4 L251.9,522.0 L252.8,521.7 M261.8,518.5 L261.9,518.5 L262.9,518.1 L264.0,517.8 L265.0,517.4 L265.2,517.3 M274.4,514.7 L275.0,514.6 L276.0,514.5 L276.9,514.4 L277.7,514.3 L277.8,514.3 M287.3,513.4 L287.5,513.3 L288.4,513.2 L289.4,513.1 L290.3,512.9 L290.8,512.9 M300.2,511.5 L300.7,511.4 L301.8,511.3 L302.8,511.2 L303.6,511.1 M313.2,510.7 L314.1,510.6 L315.1,510.6 L316.2,510.6 L316.6,510.6 M326.2,510.5 L326.2,510.5 L327.1,510.5 L328.0,510.5 L329.2,510.5 L329.7,510.5 M339.2,510.2 L339.8,510.1 L340.7,510.1 L341.6,510.1 L342.5,510.1 L342.7,510.1 M352.2,509.9 L352.7,509.9 L353.5,509.9 L354.3,510.0 L355.0,510.0 L355.7,510.0 M362.9,515.7 L363.0,516.1 L363.4,517.1 L363.7,518.2 L364.0,519.4 L364.4,520.5 L364.7,521.3 M368.3,531.6 L368.6,532.4 L369.0,533.3 L369.4,534.2 L369.7,535.2 L370.1,536.1 L370.5,536.9 M374.7,546.8 L374.8,546.8 L375.4,547.7 L376.0,548.6 L376.6,549.5 L377.2,550.4 L377.5,550.9 M383.7,559.1 L384.2,559.6 L385.0,560.5 L385.6,561.2 L386.3,561.9 L386.7,562.3 M394.0,569.1 L394.2,569.3 L395.0,570.0 L395.8,570.7 L396.5,571.4 L397.1,571.9 M404.7,578.2 L405.0,578.5 L405.8,579.2 L406.7,579.9 L407.6,580.5 L407.8,580.8 M415.8,586.5 L416.1,586.7 L417.1,587.3 L418.0,588.0 L419.0,588.5 L419.0,588.5 M427.6,586.8 L428.2,586.1 L429.0,585.0 L429.4,584.3 L429.8,583.6 L430.2,582.8 L430.3,582.7 M433.8,572.3 L434.0,571.7 L434.3,570.8 L434.6,569.9 L434.9,569.0 L435.2,568.1 L435.4,567.1 L435.6,566.6 M438.5,555.9 L438.8,555.0 L439.0,554.1 L439.2,553.1 L439.4,552.1 L439.6,551.1 L439.8,550.1 L439.9,549.7 M441.9,538.6 L442.0,537.8 L442.2,536.8 L442.3,535.9 L442.5,535.0 L442.7,533.9 L442.9,532.8 L443.0,532.2 M444.8,521.1 L444.8,521.1 L445.0,520.0 L445.2,519.0 L445.3,518.1 L445.5,517.1 L445.7,516.1 L445.9,515.0 L445.9,514.6 M447.8,503.5 L447.8,503.5 L448.0,502.5 L448.2,501.5 L448.3,500.4 L448.5,499.4 L448.6,498.4 L448.7,497.4 L448.8,497.0 M450.4,485.8 L450.5,485.0 L450.7,484.0 L450.8,483.0 L451.0,482.0 L451.1,481.1 L451.3,480.1 L451.4,479.3 M453.5,468.3 L453.5,468.0 L453.8,467.0 L454.0,466.1 L454.2,465.2 L454.4,464.3 L454.6,463.4 L454.9,462.5 L455.0,462.2 M457.9,451.6 L458.0,451.1 L458.2,450.0 L458.5,448.8 L458.8,447.5 L458.9,446.7 L459.1,445.8 L459.2,445.3 M460.8,434.1 L460.9,433.4 L461.1,432.3 L461.2,431.1 L461.4,430.0 L461.6,428.9 L461.7,427.8 L461.8,427.5 M463.5,416.4 L463.6,415.8 L463.8,415.0 L464.0,413.7 L464.3,412.4 L464.6,411.2 L464.8,410.2 L464.8,410.1 M468.1,399.7 L468.1,399.5 L468.4,398.5 L468.8,397.5 L469.0,396.6 L469.3,395.6 L469.6,394.6 L469.8,393.8 M472.8,383.2 L473.1,382.2 L473.5,381.2 L473.8,380.3 L474.2,379.3 L474.6,378.4 L474.9,377.8 M480.3,369.0 L480.5,368.8 L481.1,368.0 L481.7,367.2 L482.3,366.4 L482.9,365.6 L483.2,365.2 M488.6,356.2 L488.7,356.0 L489.1,355.1 L489.6,354.2 L490.1,353.3 L490.6,352.4 L491.0,351.5 L491.0,351.5 M496.3,342.4 L496.4,342.2 L496.9,340.9 L497.5,340.6 L498.1,339.4 L498.7,339.1 L498.9,338.8 M506.2,335.0 L506.7,335.1 L507.8,335.0 L508.9,334.4 L509.6,333.5 M515.7,336.0 L516.7,336.1 L517.7,334.8 L518.8,335.7 L519.0,335.9 M527.2,338.4 L527.3,338.5 L528.4,339.6 L529.6,339.1 L530.4,339.8 M537.8,341.8 L538.3,341.1 L539.2,342.7 L540.1,342.1 L540.8,342.1 L541.0,342.6" fill="none" stroke="#FF8000" stroke-width="4.9" stroke-linecap="round" stroke-linejoin="round"/>
<path d="M122.2,203.0 L122.2,210.2 M122.2,221.7 L122.2,228.5 M122.2,239.9 L122.2,246.7 M122.2,258.1 L122.2,264.9 M122.2,276.2 L122.2,283.1 M122.2,294.5 L122.2,301.3 M122.2,312.7 L122.2,319.5 M122.2,330.9 L122.2,337.7 M122.2,349.1 L122.2,355.9 M122.2,367.2 L122.2,374.1 M122.2,385.5 L122.2,392.3 M122.2,403.7 L122.2,410.5 M122.2,421.9 L122.2,428.7 M122.2,440.1 L122.2,446.9 M122.2,458.2 L122.2,465.1 M122.2,476.5 L122.2,483.3 M122.2,494.7 L122.2,501.5 M122.2,512.9 L122.2,519.7 M122.2,531.1 L122.2,537.9" fill="none" stroke="#FF00FF" stroke-width="4.9" stroke-linecap="round" stroke-linejoin="round"/>
<path d="M135.6,209.4 L135.7,209.8 L135.8,210.7 L135.9,211.6 L136.0,212.6 L136.1,213.6 L136.2,214.7 L136.3,215.8 L136.3,216.0 M137.4,227.3 L137.5,227.6 L137.6,228.7 L137.7,229.7 L137.8,230.7 L137.9,231.8 L138.0,232.8 L138.1,233.9 L138.1,233.9 M139.5,245.1 L139.5,245.5 L139.6,246.6 L139.8,247.6 L139.9,248.7 L140.1,249.7 L140.2,250.8 L140.3,251.6 M141.8,262.8 L141.9,263.5 L142.0,264.5 L142.1,265.6 L142.3,266.6 L142.4,267.7 L142.6,268.7 L142.6,269.3 M144.4,280.4 L144.5,281.0 L144.7,282.0 L144.9,283.0 L145.1,284.1 L145.3,285.2 L145.5,286.2 L145.6,286.6 M148.0,297.5 L148.2,298.4 L148.4,299.4 L148.7,300.4 L148.9,301.4 L149.1,302.4 L149.4,303.4 L149.4,303.5 M152.1,314.2 L152.2,314.4 L152.5,315.4 L152.7,316.4 L153.0,317.5 L153.3,318.5 L153.6,319.5 L153.8,320.1 M157.4,330.3 L157.8,331.1 L158.2,332.0 L158.6,332.9 L159.1,333.9 L159.5,334.8 L159.7,335.2 M164.3,344.8 L164.4,345.1 L164.9,346.0 L165.4,347.0 L165.9,347.9 L166.4,348.9 L166.7,349.4 M172.0,358.4 L172.4,359.0 L173.0,359.9 L173.6,360.8 L174.2,361.7 L174.7,362.4 M180.9,370.5 L181.3,370.9 L181.9,371.7 L182.6,372.5 L183.3,373.3 L183.8,373.9 M190.8,381.0 L191.3,381.4 L192.0,382.0 L192.6,382.7 L193.3,383.3 L193.9,383.8" fill="none" stroke="#FF00FF" stroke-width="4.9" stroke-linecap="round" stroke-linejoin="round"/>
<path d="M201.6,393.7 L201.7,394.4 L201.8,395.7 L201.9,397.0 L202.0,397.9 L202.0,398.7 L202.1,399.6 L202.1,400.4 M202.8,411.8 L202.8,412.1 L202.9,413.3 L203.0,414.6 L203.1,416.2 L203.2,418.0 L203.2,418.5 M203.9,429.9 L203.9,429.9 L204.0,430.9 L204.0,431.9 L204.1,432.9 L204.1,433.9 L204.2,435.0 L204.3,436.0 L204.3,436.6 M205.0,448.0 L205.0,448.3 L205.1,449.4 L205.1,450.5 L205.2,451.7 L205.3,452.8 L205.3,453.9 L205.4,454.8 M206.1,466.1 L206.1,466.4 L206.1,467.3 L206.2,468.2 L206.2,469.1 L206.3,470.0 L206.4,471.2 L206.4,472.4 L206.5,472.9 M207.1,484.2 L207.1,485.1 L207.2,486.1 L207.2,487.2 L207.3,488.3 L207.4,489.3 L207.4,490.3 L207.4,491.0 M208.1,502.3 L208.1,502.8 L208.2,503.6 L208.2,504.3 L208.3,505.0 L208.4,506.7 L208.6,508.3 L208.7,509.0 M210.4,520.1 L210.6,520.8 L210.8,521.7 L211.2,522.5 L211.7,523.3 L212.4,524.0 L212.8,524.4 M221.8,526.8 L222.5,526.7 L223.3,526.4 L224.1,526.1 L225.0,525.7 L225.1,525.6 M233.6,521.2 L234.0,521.0 L234.9,520.6 L235.9,520.3 L236.8,520.0 L237.0,519.9 M246.1,517.2 L247.0,517.0 L248.0,516.7 L249.1,516.4 L249.4,516.3 M258.8,514.5 L259.7,514.3 L260.7,514.2 L261.7,514.0 L262.2,513.9 M271.6,512.8 L272.0,512.7 L273.0,512.6 L274.0,512.5 L275.0,512.4 M284.4,511.1 L285.0,511.0 L285.8,510.9 L286.6,510.8 L287.5,510.7 L287.8,510.7 M297.3,509.6 L297.7,509.6 L298.8,509.4 L299.8,509.3 L300.7,509.2 M310.1,508.2 L310.2,508.2 L311.3,508.0 L312.3,507.9 L313.4,507.8 L313.5,507.8 M322.9,506.7 L323.5,506.6 L324.4,506.5 L325.5,506.4 L326.3,506.2 M335.7,504.8 L335.9,504.8 L336.9,504.6 L337.9,504.5 L338.8,504.3 L339.1,504.3 M348.5,502.6 L349.4,502.4 L350.4,502.2 L351.4,502.0 L351.9,502.0 M361.3,500.8 L362.0,500.8 L363.3,500.8 L364.3,500.9 L364.8,500.9 M370.5,508.9 L370.6,509.6 L370.9,510.6 L371.1,511.6 L371.3,512.6 L371.5,513.7 L371.8,514.8 L371.8,515.0 M374.2,525.9 L374.3,526.6 L374.5,527.5 L374.7,528.5 L374.9,529.4 L375.1,530.5 L375.3,531.5 L375.4,532.1 M377.9,543.0 L378.2,543.9 L378.5,545.0 L378.9,546.0 L379.4,547.0 L379.8,548.0 L379.9,548.3 M384.6,557.8 L384.8,558.1 L385.3,559.1 L385.8,560.0 L386.3,560.9 L386.9,561.7 L387.2,562.2 M393.2,570.4 L393.4,570.6 L394.2,571.5 L395.0,572.5 L395.6,573.2 L396.2,573.8 M403.0,581.1 L403.7,581.9 L404.4,582.7 L405.0,583.5 L405.6,584.4 L405.9,584.7 M411.3,593.6 L411.4,593.7 L412.0,594.5 L412.6,595.3 L413.3,596.1 L414.0,596.8 L414.3,597.1 M421.5,604.0 L422.3,604.8 L423.2,605.8 L424.1,606.8 L424.4,607.0" fill="none" stroke="#FF00FF" stroke-width="4.9" stroke-linecap="round" stroke-linejoin="round"/>
<path d="M431.7,605.6 L431.9,605.3 L432.5,604.0 L433.2,602.5 L433.5,601.8 L433.8,601.0 L434.1,600.4 M437.8,590.1 L438.0,589.3 L438.4,588.2 L438.7,587.1 L439.0,586.0 L439.3,585.0 L439.6,584.1 L439.6,584.0 M442.2,573.0 L442.3,572.3 L442.5,571.3 L442.7,570.2 L442.9,569.2 L443.1,568.2 L443.3,567.1 L443.5,566.5 M445.5,555.3 L445.6,554.7 L445.7,553.6 L445.9,552.5 L446.1,551.5 L446.3,550.4 L446.4,549.4 L446.5,548.6 M448.3,537.3 L448.3,537.1 L448.5,536.1 L448.6,535.1 L448.8,534.1 L448.9,533.1 L449.0,532.1 L449.2,531.2 L449.3,530.5 M450.7,519.2 L450.8,519.1 L450.9,518.1 L451.0,517.1 L451.1,516.0 L451.2,515.0 L451.4,514.0 L451.5,512.9 L451.6,512.3 M453.1,501.0 L453.1,500.8 L453.2,499.7 L453.4,498.7 L453.5,497.7 L453.7,496.7 L453.8,495.7 L454.0,494.7 L454.0,494.2 M455.6,482.9 L455.6,482.6 L455.8,481.6 L455.9,480.6 L456.0,479.6 L456.1,478.6 L456.3,477.6 L456.4,476.6 L456.4,476.0 M458.0,464.7 L458.0,464.2 L458.2,463.2 L458.3,462.2 L458.5,461.2 L458.6,460.1 L458.8,459.1 L458.9,458.1 L459.0,457.9 M460.7,446.7 L460.8,445.9 L461.0,445.0 L461.2,443.9 L461.4,442.9 L461.6,441.8 L461.8,440.8 L461.9,440.0 M464.2,429.0 L464.2,428.8 L464.4,427.8 L464.6,426.9 L464.8,425.9 L465.0,425.0 L465.2,423.9 L465.5,422.8 L465.5,422.5 M467.9,411.4 L468.1,410.6 L468.3,409.6 L468.5,408.6 L468.8,407.5 L469.0,406.5 L469.1,405.5 L469.3,404.9 M471.3,393.7 L471.4,393.1 L471.7,392.0 L471.9,391.0 L472.2,390.0 L472.5,389.0 L472.8,388.0 L473.0,387.6 M477.2,377.6 L477.2,377.6 L477.6,376.7 L478.0,375.8 L478.5,374.9 L478.9,374.0 L479.3,373.1 L479.6,372.4 M484.1,362.5 L484.2,362.4 L484.6,361.5 L485.0,360.5 L485.4,359.6 L485.9,358.6 L486.3,357.7 L486.5,357.3 M490.8,347.3 L490.9,347.0 L491.4,346.1 L491.8,345.2 L492.2,344.4 L492.5,343.6 L492.9,342.8 L493.2,342.3 M498.7,333.9 L498.8,333.7 L499.5,333.2 L500.2,333.2 L500.9,332.8 L501.5,330.9 L501.8,330.3" fill="none" stroke="#FF00FF" stroke-width="4.9" stroke-linecap="round" stroke-linejoin="round"/>
<path d="M507.9,323.4 L510.6,325.5 M515.65,328.7 L517.75,326.1 M522.9,325.4 L524.5,327.9 M529.4,327.75 L530.6,328.55 M535.1,330.3 L536.7,331.9" fill="none" stroke="#FF00FF" stroke-width="5" stroke-linecap="round"/>
<path d="M135.0,209.0 L135.1,209.6 L135.2,210.3 L135.3,211.2 L135.4,212.2 L135.6,213.2 L135.7,214.3 L135.9,215.5 L136.0,216.7 L136.2,217.9 L136.3,219.1 L136.5,220.3 L136.6,221.4 L136.8,222.5 L136.9,223.5 L137.0,224.6 L137.1,225.6 L137.1,226.6 L137.2,227.6 L137.3,228.7 L137.4,229.7 L137.5,230.7 L137.6,231.8 L137.7,232.8 L137.8,233.9 L137.9,234.9 L138.0,236.0 L138.1,237.0 L138.2,238.1 L138.4,239.1 L138.5,240.2 L138.7,241.2 L138.8,242.3 L139.0,243.4 L139.1,244.4 L139.3,245.5 L139.4,246.6 L139.6,247.6 L139.7,248.7 L139.9,249.7 L140.0,250.8 L140.1,251.8 L140.3,252.9 L140.4,254.0 L140.5,255.1 L140.7,256.1 L140.8,257.2 L140.9,258.2 L141.0,259.3 L141.2,260.3 L141.3,261.4 L141.4,262.4 L141.6,263.5 L141.8,264.5 L141.9,265.5 L142.1,266.6 L142.3,267.6 L142.5,268.7 L142.6,269.7 L142.8,270.7 L143.0,271.8 L143.2,272.8 L143.4,273.8 L143.6,274.9 L143.8,275.9 L144.0,277.0 L144.2,278.0 L144.4,279.0 L144.6,280.0 L144.8,280.9 L145.0,281.9 L145.2,282.9 L145.4,283.9 L145.6,284.9 L145.8,285.8 L146.0,286.8 L146.2,287.8 L146.4,288.8 L146.6,289.8 L146.8,290.8 L147.0,291.8 L147.2,292.7 L147.5,293.7 L147.7,294.7 L147.9,295.7 L148.2,296.7 L148.4,297.7 L148.7,298.7 L148.9,299.6 L149.2,300.6 L149.4,301.6 L149.7,302.6 L150.0,303.6 L150.2,304.5 L150.5,305.5 L150.8,306.5 L151.1,307.6 L151.4,308.6 L151.7,309.6 L152.0,310.6 L152.3,311.7 L152.6,312.7 L152.9,313.7 L153.2,314.7 L153.5,315.7 L153.8,316.7 L154.2,317.7 L154.5,318.8 L154.9,319.8 L155.2,320.8 L155.6,321.8 L155.9,322.8 L156.3,323.8 L156.7,324.8 L157.1,325.8 L157.5,326.8 L157.9,327.8 L158.3,328.8 L158.7,329.8 L159.1,330.8 L159.5,331.8 L159.9,332.7 L160.3,333.7 L160.7,334.6 L161.1,335.5 L161.5,336.4 L161.9,337.4 L162.3,338.3 L162.8,339.2 L163.2,340.1 L163.6,341.0 L164.1,341.9 L164.5,342.8 L165.0,343.8 L165.5,344.7 L166.0,345.6 L166.5,346.5 L167.0,347.4 L167.5,348.3 L168.0,349.2 L168.6,350.1 L169.1,351.0 L169.7,351.9 L170.2,352.8 L170.8,353.7 L171.4,354.6 L172.0,355.5 L172.6,356.3 L173.2,357.2 L173.8,358.0 L174.4,358.8 L175.0,359.7 L175.6,360.5 L176.2,361.4 L176.9,362.2 L177.5,363.0 L178.2,363.8 L178.8,364.6 L179.5,365.4 L180.1,366.2 L180.8,367.0 L181.4,367.8 L182.1,368.6 L182.8,369.4 L183.5,370.2 L184.2,371.0 L184.9,371.8 L185.6,372.5 L186.3,373.3 L187.0,374.0 L187.7,374.8 L188.5,375.5 L189.2,376.3 L190.0,377.0 L190.7,377.7 L191.5,378.4 L192.2,379.0 L193.0,379.7 L193.8,380.4 L194.6,381.0 L195.4,381.7 L196.2,382.3 L197.0,383.0 L197.8,383.6 L198.6,384.2 L199.5,384.9 L200.3,385.5 L201.1,386.1 L201.9,386.7 L202.7,387.3 L203.5,387.9 L204.4,388.5 L205.2,389.1 L206.0,389.7 L206.9,390.3 L207.7,390.9 L208.5,391.4 L209.4,392.0 L210.2,392.6 L211.1,393.1 L211.9,393.7 L212.8,394.2 L213.7,394.7 L214.6,395.3 L215.5,395.8 L216.4,396.3 L217.3,396.8 L218.2,397.3 L219.1,397.8 L220.0,398.3 L220.9,398.7 L221.8,399.2 L222.8,399.7 L223.7,400.2 L224.6,400.6 L225.5,401.1 L226.4,401.6 L227.3,402.0 L228.2,402.5 L229.1,402.9 L230.0,403.4 L230.9,403.8 L231.8,404.2 L232.8,404.7 L233.7,405.1 L234.6,405.5 L235.5,406.0 L236.4,406.4 L237.4,406.8 L238.3,407.2 L239.2,407.6 L240.2,408.0 L241.2,408.4 L242.1,408.8 L243.1,409.2 L244.1,409.6 L245.1,409.9 L246.1,410.3 L247.0,410.7 L248.0,411.1 L249.0,411.4 L250.0,411.8 L250.9,412.1 L251.9,412.5 L252.9,412.9 L253.9,413.2 L254.9,413.6 L255.9,414.0 L256.9,414.3 L257.9,414.7 L258.9,415.0 L259.9,415.4 L260.9,415.7 L261.9,416.0 L263.0,416.4 L264.0,416.7 L265.0,417.0 L266.0,417.3 L266.9,417.6 L267.9,417.8 L268.9,418.1 L269.9,418.3 L270.9,418.6 L271.9,418.8 L272.9,419.1 L273.8,419.3 L274.8,419.5 L275.8,419.8 L276.8,420.0 L277.8,420.3 L278.8,420.5 L279.8,420.8 L280.8,421.0 L281.8,421.3 L282.8,421.5 L283.9,421.8 L284.9,422.0 L285.9,422.3 L286.9,422.5 L287.9,422.8 L288.9,423.0 L289.9,423.3 L291.0,423.5 L292.0,423.8 L293.0,424.0 L293.9,424.2 L294.9,424.5 L295.9,424.7 L296.9,424.9 L297.9,425.2 L298.8,425.4 L299.8,425.6 L300.8,425.9 L301.8,426.1 L302.8,426.3 L303.8,426.5 L304.8,426.8 L305.8,427.0 L306.7,427.2 L307.7,427.4 L308.7,427.7 L309.7,427.9 L310.7,428.1 L311.7,428.3 L312.6,428.5 L313.6,428.8 L314.6,429.0 L315.6,429.2 L316.6,429.4 L317.5,429.6 L318.5,429.8 L319.5,430.0 L320.5,430.2 L321.6,430.4 L322.6,430.6 L323.7,430.8 L324.7,431.0 L325.7,431.2 L326.8,431.4 L327.8,431.6 L328.8,431.7 L329.9,431.9 L330.9,432.1 L331.9,432.3 L333.0,432.5 L334.0,432.7 L335.0,432.9 L336.0,433.0 L337.0,433.2 L338.0,433.4 L339.0,433.6 L340.0,433.8 L341.0,434.0 L342.0,434.1 L343.0,434.3 L344.0,434.5 L345.0,434.7 L346.0,434.8 L347.0,435.0 L348.1,435.2 L349.1,435.3 L350.2,435.5 L351.2,435.7 L352.3,435.8 L353.4,436.0 L354.4,436.1 L355.5,436.3 L356.5,436.4 L357.6,436.5 L358.6,436.7 L359.7,436.8 L360.8,437.0 L361.8,437.2 L362.9,437.3 L363.9,437.5 L365.0,437.6 L366.0,437.8 L367.1,437.9 L368.1,438.1 L369.2,438.2 L370.3,438.4 L371.3,438.5 L372.4,438.7 L373.4,438.8 L374.5,439.0 L375.5,439.1 L376.5,439.3 L377.5,439.4 L378.5,439.6 L379.5,439.7 L380.5,439.9 L381.5,440.0 L382.5,440.2 L383.5,440.3 L384.5,440.5 L385.5,440.6 L386.5,440.7 L387.5,440.9 L388.5,441.0 L389.6,441.1 L390.6,441.3 L391.6,441.4 L392.7,441.5 L393.7,441.6 L394.7,441.7 L395.8,441.9 L396.8,442.0 L397.8,442.1 L398.9,442.2 L399.9,442.3 L400.9,442.4 L402.0,442.5 L403.0,442.6 L404.0,442.7 L405.0,442.8 L406.0,442.9 L407.0,443.0 L408.0,443.1 L409.0,443.2 L410.0,443.3 L411.0,443.4 L412.0,443.4 L413.0,443.5 L414.0,443.6 L415.0,443.7 L416.0,443.8 L417.0,443.8 L418.0,443.9 L419.0,443.9 L420.0,444.0 L421.0,444.0 L422.0,444.1 L423.0,444.1 L424.0,444.2 L425.0,444.2 L426.0,444.2 L427.0,444.3 L428.0,444.4 L429.0,444.4 L430.0,444.5 L431.1,444.6 L432.1,444.7 L433.2,444.8 L434.2,444.9 L435.3,445.0 L436.4,445.1 L437.4,445.3 L438.5,445.4 L439.5,445.5 L440.6,445.6 L441.6,445.8 L442.7,445.9 L443.8,446.0 L444.8,446.1 L445.9,446.2 L446.9,446.4 L448.0,446.5 L449.0,446.6 L450.1,446.7 L451.1,446.8 L452.2,446.9 L453.2,447.1 L454.3,447.2 L455.3,447.3 L456.4,447.4 L457.5,447.5 L458.5,447.6 L459.5,447.7 L460.6,447.8 L461.6,447.9 L462.6,448.0 L463.7,448.1 L464.7,448.1 L465.8,448.2 L466.8,448.3 L467.9,448.4 L468.9,448.5 L469.9,448.6 L471.0,448.7 L472.0,448.8 L473.0,448.8 L474.0,448.9 L475.0,449.0 L476.0,449.1 L477.0,449.2 L478.0,449.3 L479.0,449.4 L480.0,449.5 L481.0,449.6 L482.0,449.7 L483.0,449.8 L484.0,449.8 L485.0,449.9 L486.0,450.0 L487.0,450.1 L488.0,450.1 L489.0,450.2 L490.0,450.2 L491.0,450.3 L492.0,450.3 L493.0,450.4 L494.0,450.4 L495.0,450.5 L496.0,450.5 L497.0,450.6 L498.0,450.6 L499.0,450.7 L500.0,450.8 L501.1,450.8 L502.1,450.9 L503.2,451.0 L504.2,451.0 L505.3,451.1 L506.3,451.2 L507.4,451.3 L508.4,451.3 L509.5,451.4 L510.5,451.5 L511.6,451.6 L512.7,451.7 L513.8,451.8 L514.8,451.8 L515.8,451.9 L516.8,452.0 L517.8,452.1 L518.8,452.2 L519.8,452.3 L520.9,452.4 L521.9,452.5 L522.9,452.6 L523.9,452.7 L525.0,452.7 L526.0,452.8 L527.0,452.9 L528.0,453.0 L529.0,453.1 L530.1,453.2 L531.3,453.2 L532.4,453.3 L533.6,453.4 L534.8,453.5 L535.9,453.6 L537.0,453.7 L538.0,453.7 L539.0,453.8 L539.9,453.9 L540.7,453.9 L541.4,454.0 L542.0,454.0" fill="none" stroke="#808080" stroke-width="3" stroke-linecap="round" stroke-dasharray="1.3 12.735" stroke-dashoffset="0.35"/>
<path d="M470.7,557.5 H535" fill="none" stroke="#808080" stroke-width="3.2" stroke-linecap="round" stroke-dasharray="1.9 12.05"/>
</g>
<g font-family="'Liberation Serif', serif" font-size="32" fill="#000" stroke="#000" stroke-width="0.25">
<text transform="translate(110.2,212.3) scale(1,1.05)" text-anchor="end">0.006</text>
<text transform="translate(110.2,313.1) scale(1,1.05)" text-anchor="end">0.004</text>
<text transform="translate(110.2,413.9) scale(1,1.05)" text-anchor="end">0.002</text>
<text transform="translate(110.2,514.7) scale(1,1.05)" text-anchor="end">0.000</text>
<text transform="translate(110.2,615.5) scale(1,1.05)" text-anchor="end">-0.002</text>
<text transform="translate(212.6,667.8) scale(1,1.05)" text-anchor="middle">-50</text>
<text transform="translate(362.2,667.8) scale(1,1.05)" text-anchor="middle">0</text>
<text transform="translate(512.2,667.8) scale(1,1.05)" text-anchor="middle">50</text>
</g>
<text transform="translate(4.6,256.7) scale(1,1.06)" font-family="'Liberation Serif', serif" font-style="italic" font-size="41" fill="#000">C</text>
<g fill="none" stroke="#000" stroke-linecap="round">
<path d="M44.6,251.6 C44.2,250.1 42.6,249.9 41.5,251.6 C40.3,253.6 39.6,257 38,263 C37,267 36.2,270.2 34.3,271 C33.2,271.5 32.4,271.2 31.9,270.5" stroke-width="0.9"/>
<path d="M41.2,252.4 C40.3,254.5 39.6,257 38,263 C37.3,265.8 36.7,268 35.8,269.6" stroke-width="2.1"/>
<path d="M36.2,256.8 H41.8" stroke-width="0.9"/>
</g>
<circle cx="44.7" cy="252" r="0.9" fill="#000"/><circle cx="32" cy="270.4" r="0.9" fill="#000"/>
</svg>
</body></html>
